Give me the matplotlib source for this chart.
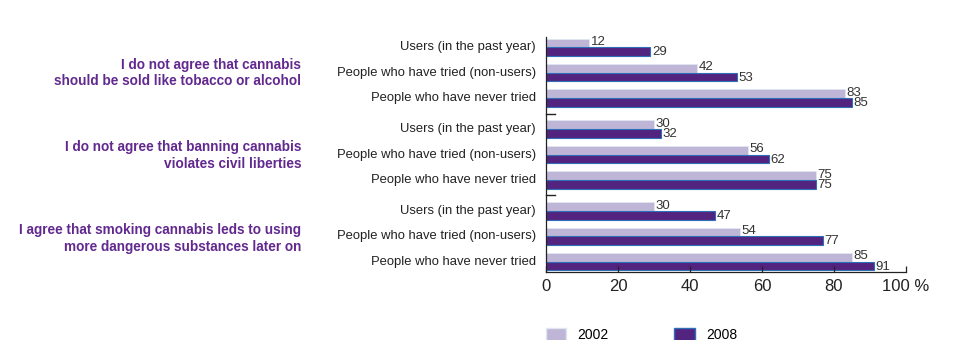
import matplotlib

matplotlib.use("Agg")

import matplotlib.pyplot as plt
from matplotlib.patches import Patch

plt.rcParams["font.family"] = ["Liberation Sans", "DejaVu Sans"]

# survey statements (one group of bars each)
statements = [
    "I do not agree that cannabis\nshould be sold like tobacco or alcohol",
    "I do not agree that banning cannabis\nviolates civil liberties",
    "I agree that smoking cannabis leds to using\nmore dangerous substances later on",
]
respondents = [
    "Users (in the past year)",
    "People who have tried (non-users)",
    "People who have never tried",
]
# share (%) per statement, per respondent group
values_2002 = [[12, 42, 83], [30, 56, 75], [30, 54, 85]]
values_2008 = [[29, 53, 85], [32, 62, 75], [47, 77, 91]]
years = ["2002", "2008"]
x_ticks = [0, 20, 40, 60, 80, 100]

color_2002 = "#bfb6d7"
color_2008 = "#52247f"
title_color = "#62298f"
group_gap = 3.22
bar_h = 0.34

fig = plt.figure(figsize=(9.54, 3.40), dpi=100)
ax = fig.add_axes([546 / 954, 1 - 272 / 340, 360 / 954, 235 / 340])

for g, statement in enumerate(statements):
    for r, label in enumerate(respondents):
        y = g * group_gap + r
        v02 = values_2002[g][r]
        v08 = values_2008[g][r]
        ax.barh(y - bar_h / 2, v02, height=bar_h, color=color_2002,
                edgecolor="#dfe6f2", linewidth=0.6)
        ax.barh(y + bar_h / 2, v08, height=bar_h, color=color_2008,
                edgecolor="#2f6fb8", linewidth=0.8)
        ax.text(v02 + 0.4, y - bar_h / 2 - 0.04, str(v02), va="center", ha="left",
                fontsize=9.5, color="#333333")
        ax.text(v08 + 0.4, y + bar_h / 2 + 0.03, str(v08), va="center", ha="left",
                fontsize=9.5, color="#333333")
        ax.text(-2.8, y, label, va="center", ha="right", fontsize=9.4,
                color="#222222")
    ax.text(-68, g * group_gap + 1.0 + 0.04 * g, statement, va="center",
            ha="right", fontsize=9.8, fontweight="bold", color=title_color,
            linespacing=1.2)

ax.set_xlim(0, 100)
ax.set_ylim(2 * group_gap + 2 + 0.4, -0.4)

# short marks on the left axis between statement groups
for g in range(1, len(statements)):
    yb = g * group_gap - (group_gap - 2) / 2
    ax.plot([0, 2.4], [yb, yb], color="#222222", lw=1.0, clip_on=False)

ax.set_yticks([])
ax.set_xticks(x_ticks)
ax.set_xticklabels([str(t) for t in x_ticks[:-1]] + ["100 %"])
ax.tick_params(axis="x", direction="in", length=4, width=0.9, pad=5,
               labelsize=12, colors="#222222")
for side in ["top", "right"]:
    ax.spines[side].set_visible(False)
for side in ["left", "bottom"]:
    ax.spines[side].set_linewidth(0.9)
    ax.spines[side].set_color("#222222")

handles = [
    Patch(facecolor=color_2002, edgecolor="#dfe6f2"),
    Patch(facecolor=color_2008, edgecolor="#2f6fb8"),
]
fig.legend(handles, years, ncol=2, frameon=False, loc="upper left",
           bbox_to_anchor=(540 / 954, 1 - 322 / 340), handlelength=1.5,
           handleheight=1.1, handletextpad=0.8, columnspacing=4.7,
           fontsize=10, borderaxespad=0)

fig.savefig("out.png", dpi=100)
